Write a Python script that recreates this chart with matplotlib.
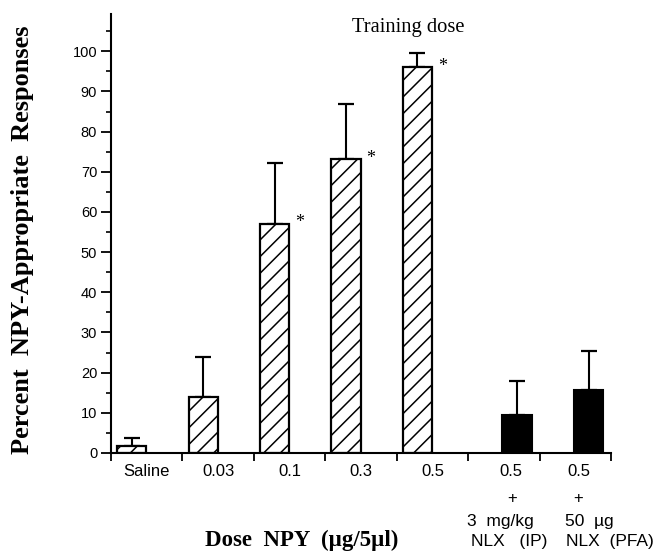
import matplotlib
matplotlib.use("Agg")
import matplotlib.pyplot as plt
import numpy as np

# data
groups = ["Saline", "0.03", "0.1", "0.3", "0.5", "0.5", "0.5"]
nlx_lines = [["+", "+"], ["3  mg/kg", "50  \u00b5g"], ["NLX   (IP)", "NLX  (PFA)"]]
means = [1.8, 14.0, 57.1, 73.2, 96.0, 9.4, 15.7]
upper_err = [1.9, 9.9, 15.1, 13.7, 3.5, 8.5, 9.7]
significant = [False, False, True, True, True, False, False]
naloxone = [False, False, False, False, False, True, True]

plt.rcParams["hatch.linewidth"] = 1.1

fig = plt.figure(figsize=(6.64, 5.56), dpi=100)
ax = fig.add_axes([0.1672, 0.1853, 0.753, 0.7897])

w = 0.41
xpos = np.array([i + 0.085 + w / 2 if not nx else i + 0.48 + w / 2
                 for i, nx in enumerate(naloxone)])

for x, m, e, nx in zip(xpos, means, upper_err, naloxone):
    if nx:
        ax.bar(x, m, width=w, color="black", edgecolor="black", linewidth=1.5, zorder=2)
    else:
        ax.bar(x, m, width=w, color="white", edgecolor="black", hatch="//",
               linewidth=1.6, zorder=2)
    ax.errorbar(x, m, yerr=[[0], [e]], fmt="none", ecolor="black",
                elinewidth=1.5, capsize=5.5, capthick=1.6, zorder=1)

for x, m, s in zip(xpos, means, significant):
    if s:
        ax.annotate("*", xy=(x + w / 2, m), xytext=(7.5, 0.5), textcoords="offset points",
                    ha="center", va="center", fontsize=13, family="Liberation Serif")

ax.text(xpos[4] - 0.13, 106.0, "Training dose", ha="center", va="center",
        fontsize=14.8, family="Liberation Serif")

ax.set_xlim(0, 7)
ax.set_ylim(0, 109.3)
ax.spines["top"].set_visible(False)
ax.spines["right"].set_visible(False)
ax.spines["left"].set_linewidth(1.5)
ax.spines["bottom"].set_linewidth(1.5)

ax.set_yticks(np.arange(0, 101, 10))
ax.set_yticks(np.arange(5, 106, 5), minor=True)
ax.tick_params(axis="y", which="major", direction="out", length=7, width=1.3,
               labelsize=10.5, pad=3)
ax.tick_params(axis="y", which="minor", direction="out", length=3.5, width=1.2)
for lab in ax.get_yticklabels():
    lab.set_family("Liberation Sans")

ax.set_xticks(np.arange(0, 8))
ax.set_xticklabels([])
ax.tick_params(axis="x", which="major", direction="out", length=6, width=1.3)
label_pos = [i + 0.5 for i in range(5)] + [5.6, 6.55]
ax.set_xticks(label_pos, minor=True)
ax.set_xticklabels(groups, minor=True, fontsize=12, family="Liberation Sans")
ax.tick_params(axis="x", which="minor", length=0, pad=8)

# extra lines under the naloxone bars
row_y = [-0.104, -0.155, -0.202]
row_x = [[5.61, 6.54], [5.45, 6.7], [5.57, 6.99]]
row_size = [12, 12.5, 12.5]
xt = ax.get_xaxis_transform()
for lines, yy, xs, fs in zip(nlx_lines, row_y, row_x, row_size):
    for s, xx in zip(lines, xs):
        ax.text(xx, yy, s, transform=xt, ha="center", va="center", fontsize=fs,
                family="Liberation Sans")

fig.text(23 / 664, 0.568, "Percent  NPY-Appropriate  Responses", rotation=90,
         ha="center", va="center", fontsize=19, fontweight="bold",
         family="Liberation Serif")
ax.text(0.382, -0.2, "Dose  NPY  (\u00b5g/5\u00b5l)", transform=ax.transAxes,
        ha="center", va="center", fontsize=16.5, fontweight="bold",
        family="Liberation Serif")

fig.savefig("out.png", dpi=100)
